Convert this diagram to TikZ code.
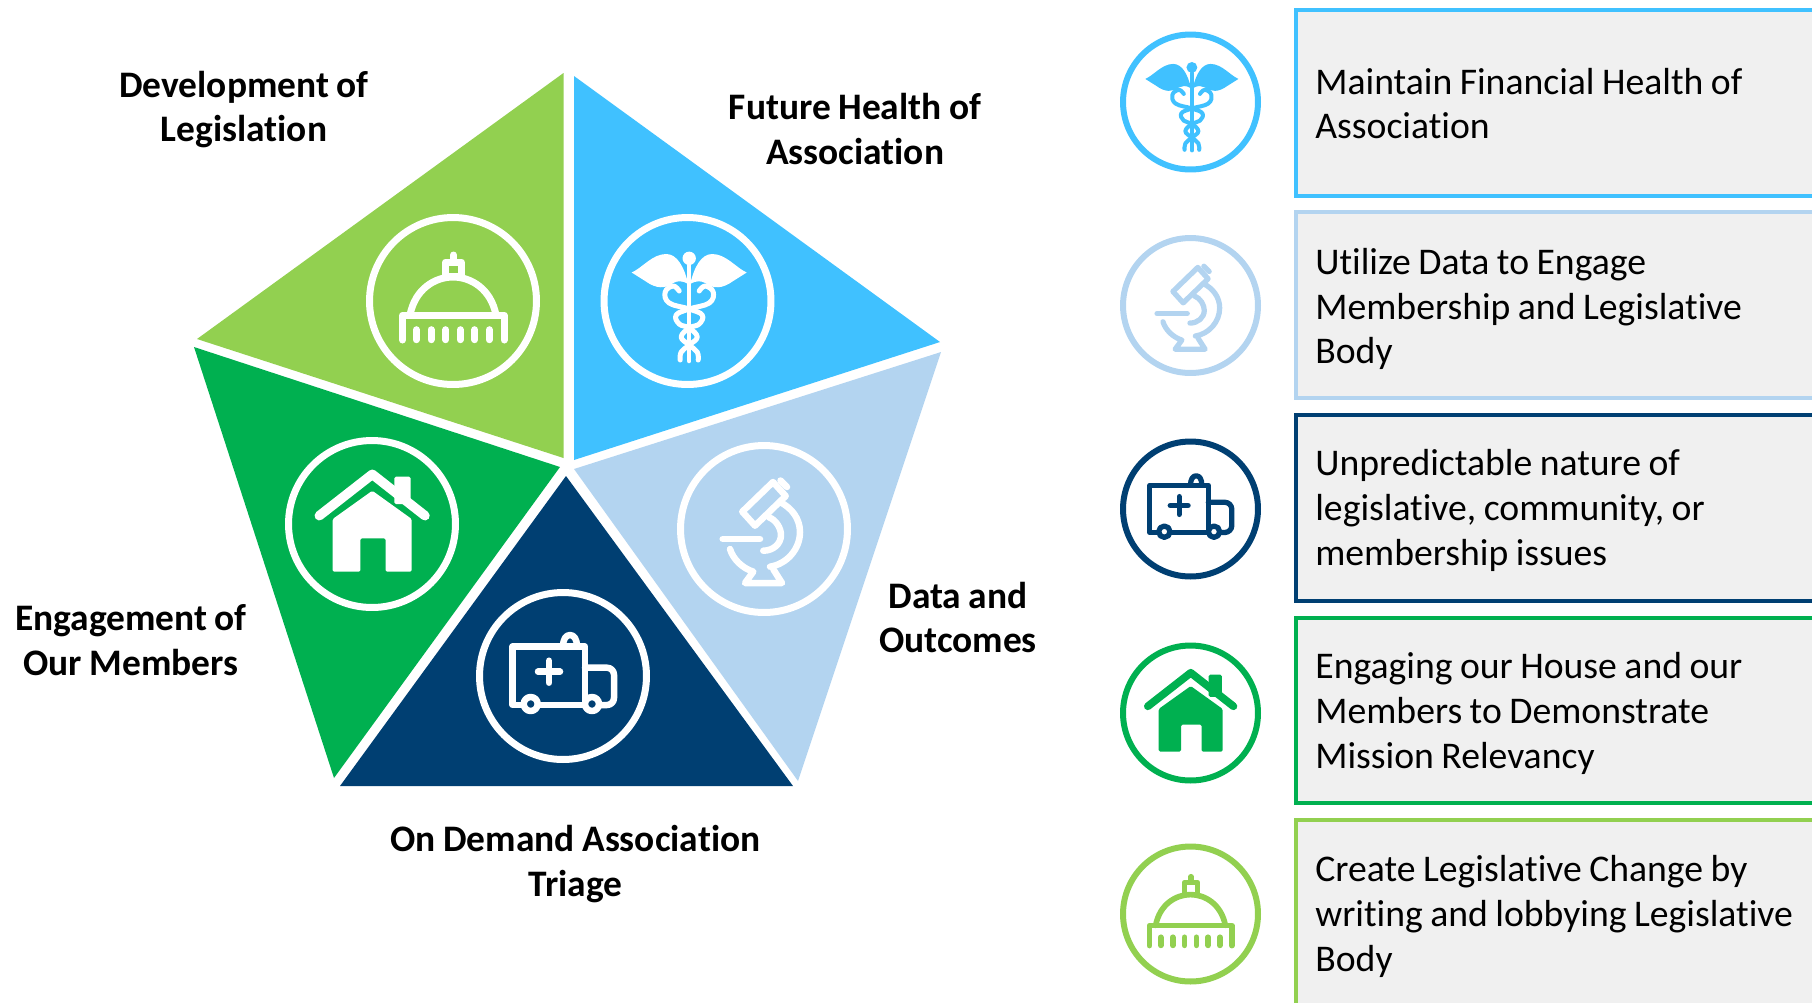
\documentclass[tikz,border=0pt]{standalone}
\usepackage{fontspec}
\setmainfont[Ligatures=CommonOff,WordSpace=.88]{Carlito}
\definecolor{legislation}{RGB}{146,208,80}
\definecolor{future}{RGB}{64,193,255}
\definecolor{outcomes}{RGB}{179,212,240}
\definecolor{triage}{RGB}{0,63,114}
\definecolor{members}{RGB}{0,176,80}
\definecolor{boxfill}{RGB}{240,240,240}
\tikzset{
  labeldecorate/.style={align=center,inner sep=0pt,font=\fontsize{21.3}{25.5}\selectfont\bfseries},
  boxdecorate/.style={anchor=west,minimum width=11.4cm,minimum height=3.72cm,line width=.08cm,fill=boxfill},
  textdecorate/.style={anchor=west,align=left,inner sep=0pt,font=\fontsize{21.45}{25.5}\selectfont},
  iconline/.style={draw=\iconcol,line width=.13cm*\iconscale,line cap=round,line join=round},
  capitol/.pic={
    \begin{scope}[iconline/.append style={line width=.14cm*\iconscale}]
      \draw[iconline] (-50.5,39) -- (-50.5,14.3) -- (51,14.3) -- (51,39);
      \foreach \xcol in {-36.7,-22,-7.3,7.3,21.7,36.3}
        \draw[iconline] (\xcol,28.7) -- (\xcol,38.7);
      \draw[iconline] (-43,14) .. controls (-38,-12) and (-18,-24) .. (0,-24)
        .. controls (18,-24) and (38,-12) .. (43,14);
      \draw[iconline] (-7.5,-24.3) rectangle (8.5,-38.8);
      \draw[iconline] (.5,-46) -- (.5,-40);
    \end{scope}
  },
  caduceus/.pic={
    \begin{scope}[xshift=.034cm]
      \fill[\iconcol] (0,-42.7) circle (6.7);
      \draw[iconline,line width=.09cm*\iconscale] (0,-36) -- (0,60);
      \foreach \flip in {1,-1}
      {
        \begin{scope}[xscale=\flip]
          \fill[\iconcol] (-57.5,-28.5) .. controls (-47,-33) and (-37,-47) .. (-23,-47)
            .. controls (-12,-47) and (-5,-34) .. (-1,-17)
            .. controls (-8,-21) and (-12,-20) .. (-16,-18)
            .. controls (-24,-12) and (-33,-12) .. (-44,-20) -- cycle;
          \draw[iconline,line width=.1cm*\iconscale] plot[smooth,tension=.7] coordinates
            {(-10,-10) (-16,-15) (-24,-9) (-20,2) (0,8) (13,14) (10,23) (0,27) (-8,36) (0,44) (8,51) (9,59)};
        \end{scope}
      }
    \end{scope}
  },
  home/.pic={
    \fill[\iconcol,rounded corners=.03cm] (22.3,-47.3) rectangle (38.7,-20);
    \draw[iconline,line width=.19cm*\iconscale] (-52.7,-8.3) -- (.3,-49.7) -- (53,-8.3);
    \fill[\iconcol,rounded corners=.03cm] (.3,-33.3) -- (39.7,-5) -- (39.7,47.7) -- (13.7,47.7)
      -- (13.7,14.3) -- (-11.7,14.3) -- (-11.7,47.7) -- (-39.3,47.7) -- (-39.3,-5) -- cycle;
  },
  ambulance/.pic={
    \draw[iconline] (0,-29.3) .. controls (0,-37) and (3,-41) .. (7,-41)
      .. controls (11,-41) and (14,-37) .. (14,-29.3);
    \draw[iconline] (-50.3,-29.3) rectangle (22,29);
    \draw[iconline,rounded corners=.14cm] (22,-8.3) -- (51,-8.3) -- (51,29) -- (22,29);
    \draw[iconline,fill=\iconbg] (-32.3,28) circle (7);
    \draw[iconline,fill=\iconbg] (29,28) circle (7);
    \draw[iconline] (-25,-4.3) -- (-3,-4.3) (-14,-15.3) -- (-14,6.7);
  },
  microscope/.pic={
    \draw[iconline] (-21.7,-17.3) -- (-9,-3.3) -- (21.7,-33) -- (9,-47) -- cycle;
    \draw[iconline] (16.5,-48.5) -- (23,-42);
    \draw[iconline] (-41.3,10) -- (-4,10);
    \draw[iconline] (5,-11.7) .. controls (12,-9) and (17,-1) .. (17,6)
      .. controls (17,15) and (9,21.7) .. (-.7,21.7);
    \draw[iconline] (16,-27) .. controls (28,-21) and (36,-10) .. (36,3)
      .. controls (36,20) and (23,35) .. (6,37.7);
    \draw[iconline] (-34,20) .. controls (-31,30) and (-22,39) .. (-10.7,42.7)
      -- (-19,54) -- (18,54) -- (9.3,40.3);
  }
}
\begin{document}
\begin{tikzpicture}
[x=.02cm,y=-.02cm,
  circledecorate/.style={shape=circle,inner sep=0pt,draw=#1}]
\path[use as bounding box,clip] (0,0) rectangle (1812,1002);
%% pentagon
\fill[legislation] (563.5,73) -- (197,339) -- (563.5,458) -- cycle;
\fill[future] (574,76) -- (940,342) -- (574,460) -- cycle;
\fill[members] (194,347) -- (560,467) -- (334,778) -- cycle;
\fill[outcomes] (941,352) -- (574,469) -- (798,781) -- cycle;
\fill[triage] (566,476) -- (340,786) -- (793,786) -- cycle;
%% circles and icons on the pentagon
\foreach \iconname/\x/\y/\iconbg in {
  capitol/453/301/legislation, caduceus/687.5/301/future,
  home/372/524/members, ambulance/563/676/triage, microscope/764/529/outcomes}
{
  \def\iconcol{white}
  \def\iconscale{1}
  \node (\iconname big) at (\x,\y) [circledecorate=white,line width=.14cm,minimum size=3.34cm] {};
  \pic at (\iconname big.center) {\iconname};
}
%% circles and icons on the right
\foreach \iconname/\y/\iconcol in {
  caduceus/102/future, microscope/305.5/outcomes, ambulance/509/triage,
  home/713/members, capitol/914/legislation}
{
  \def\iconbg{white}
  \def\iconscale{.81}
  \node (\iconname small) at (1190.5,\y) [circledecorate=\iconcol,line width=.12cm,minimum size=2.7cm] {};
  \pic[scale=.81] at (\iconname small.center) {\iconname};
}
%% boxes
\foreach \boxname/\y/\texty/\boxcol/\boxtext in {
  financial/103/103.5/future/{Maintain Financial Health of\\Association},
  utilize/305/309/outcomes/{Utilize Data to Engage\\Membership and Legislative\\Body},
  nature/508/510.5/triage/{Unpredictable nature of\\legislative, community, or\\membership issues},
  engaging/710.5/713.5/members/{Engaging our House and our\\Members to Demonstrate\\Mission Relevancy},
  change/913/916.5/legislation/{Create Legislative Change by\\writing and lobbying Legislative\\Body}}
{
  \node (\boxname) at (1294,\y) [boxdecorate,draw=\boxcol] {};
  \node (\boxname text) at (1315,\texty) [textdecorate] {\boxtext};
}
%% labels
\node (development) at (244,109.5) [labeldecorate] {Development of\\Legislation};
\node (health) at (855,129) [labeldecorate] {Future Health of\\Association};
\node (data) at (958,617.5) [labeldecorate] {Data and\\Outcomes};
\node (demand) at (575.5,864) [labeldecorate] {On Demand Association\\Triage};
\node (engagement) at (131,640) [labeldecorate] {Engagement of\\Our Members};
\end{tikzpicture}
\end{document}
